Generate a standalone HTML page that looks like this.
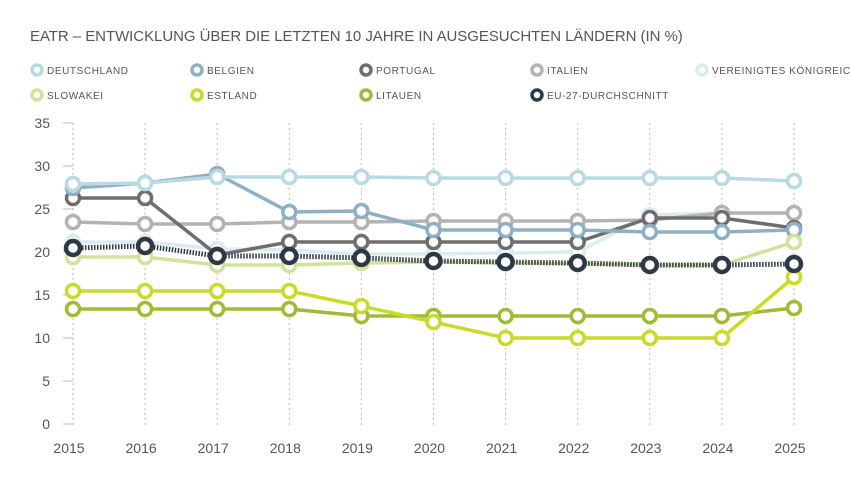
<!DOCTYPE html>
<html><head><meta charset="utf-8"><style>
body{margin:0;background:#fff}
svg{display:block;font-family:"Liberation Sans",sans-serif}
</style></head><body>
<svg id="s" width="850" height="478" xmlns="http://www.w3.org/2000/svg">
<text x="30" y="41" font-size="15" fill="#555" letter-spacing="-0.05">EATR – ENTWICKLUNG ÜBER DIE LETZTEN 10 JAHRE IN AUSGESUCHTEN LÄNDERN (IN %)</text>
<g id="g"></g>
</svg>
<script>
const g=document.getElementById('g');let h='';
const X=y=>73+(y)*72.1;
for(let i=0;i<11;i++){h+=`<line x1="${X(i)}" y1="123" x2="${X(i)}" y2="428" stroke="#bbb" stroke-width="1" stroke-dasharray="2,3"/>`;
h+=`<text x="${X(i)-4}" y="453" font-size="14" fill="#555" text-anchor="middle">${2015+i}</text>`;}
for(let v=0;v<=35;v+=5){const y=424-v*8.6;h+=`<line x1="63" y1="${y}" x2="73" y2="${y}" stroke="#bbb"/>`;
h+=`<text x="50" y="${y+5}" font-size="14" fill="#555" text-anchor="end">${v}</text>`;}
const S=[
["#dcebf1",[242,242,249,250,254,254,253,252,215,213,213],"VEREINIGTES KÖNIGREICH",702,70],
["#b3b3b3",[222,224,224,222,222,221,221,221,220,213,213],"ITALIEN",537,70],
["#6e6e6e",[198,198,255,242,242,242,242,242,218,218,228],"PORTUGAL",366,70],
["#8fb0c4",[188,183,174,212,211,230,230,230,232,232,230],"BELGIEN",197,70],
["#b9d9e3",[184,183,177,177,177,178,178,178,178,178,181],"DEUTSCHLAND",37,70],
["#d2e29a",[257,257,265,265,263,262,263,264,265,265,242],"SLOWAKEI",37,95],
["#9fbb38",[309,309,309,309,316,316,316,316,316,316,308],"LITAUEN",366,95],
["#c8da2a",[291,291,291,291,306,322,338,338,338,338,277],"ESTLAND",197,95],
["#2d3a45",[248,246,256,256,258,261,262,263,265,265,264],"EU-27-DURCHSCHNITT",537,95]];
S.forEach(([c,d,n,lx,ly],k)=>{
const eu=k==8;
const pts=d.map((y,i)=>X(i)+','+y).join(' ');
if(eu){h+=`<polyline points="${pts}" fill="none" stroke="#2d3a45" stroke-width="5" stroke-dasharray="1.5,1.5"/>`;}
else h+=`<polyline points="${pts}" fill="none" stroke="${c}" stroke-width="3.5"/>`;
d.forEach((y,i)=>{h+=`<circle cx="${X(i)}" cy="${y}" r="${eu?7:6.5}" fill="#fff" stroke="${c}" stroke-width="${eu?4.5:3.5}"/>`;});
h+=`<circle cx="${lx}" cy="${ly}" r="5" fill="#fff" stroke="${c}" stroke-width="3.5"/>`;
h+=`<text x="${lx+10}" y="${ly+4}" font-size="10" fill="#555" letter-spacing="0.6">${n}</text>`;
});
g.innerHTML=h;
</script>
</body></html>
